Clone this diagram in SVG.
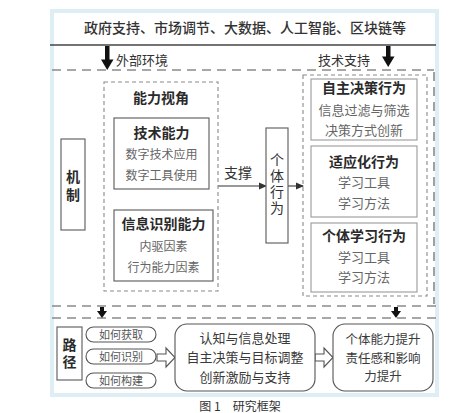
<svg xmlns="http://www.w3.org/2000/svg" width="450" height="413" viewBox="0 0 450 413">
<defs>
<style>
text{font-family:"Noto Sans CJK SC","Noto Sans",sans-serif;text-anchor:middle;fill:#333}
.b{font-weight:700;font-size:14px;fill:#2a2a2a}
.s{font-size:12px;fill:#666}
.m{font-size:13px;fill:#666}
.r{font-size:13px;fill:#3a3a3a}
.v{writing-mode:vertical-rl;text-orientation:upright}
.box{fill:#fff;stroke:#666;stroke-width:1.2}
.lbox{fill:#fff;stroke:#9a9a9a;stroke-width:1.1}
.dash{fill:none;stroke:#8a8a8a;stroke-width:1.1;stroke-dasharray:4 3}
.bigdash{fill:none;stroke:#8a8a8a;stroke-width:1.6;stroke-dasharray:9 6}
.pill{fill:#fff;stroke:#555;stroke-width:1.1}
.hollow{fill:#fff;stroke:#555;stroke-width:1.1}
.blk{fill:#111}
</style>
<marker id="ah" markerWidth="8" markerHeight="8" refX="7" refY="4" orient="auto" markerUnits="userSpaceOnUse">
<path d="M0,0.5 L8,4 L0,7.5 Z" fill="#333"/>
</marker>
</defs>
<g id="panel">
<rect x="50" y="9" width="389" height="388" fill="#deeef5"/>
<rect x="54" y="13" width="381" height="380" fill="#fff"/>
<line x1="50" y1="45" x2="436" y2="45" stroke="#444" stroke-width="1.3"/>
<text x="245" y="33" style="font-size:14px;fill:#333;font-weight:500">政府支持、市场调节、大数据、人工智能、区块链等</text>
<line class="bigdash" x1="52" y1="70" x2="434" y2="70"/>
<line class="bigdash" x1="434" y1="72" x2="434" y2="304"/>
<line class="bigdash" x1="52" y1="306" x2="436" y2="306"/>
<line class="bigdash" x1="52" y1="318" x2="436" y2="318"/>
</g>
<g id="connectors">
<rect class="blk" x="105" y="46" width="4.5" height="15"/>
<polygon class="blk" points="101,59.5 113.5,59.5 107.2,70"/>
<rect class="blk" x="386" y="46" width="4.5" height="12"/>
<polygon class="blk" points="382,56.5 394.5,56.5 388.2,67"/>
<rect class="blk" x="100" y="307" width="4" height="5"/>
<polygon class="blk" points="97,311 107,311 102,318"/>
<rect class="blk" x="394" y="307" width="4" height="5"/>
<polygon class="blk" points="391,311 401,311 396,318"/>
<line x1="218" y1="186" x2="266" y2="186" stroke="#333" stroke-width="1.1" marker-end="url(#ah)"/>
<line x1="288" y1="186" x2="303" y2="186" stroke="#333" stroke-width="1.1" marker-end="url(#ah)"/>
<polygon class="hollow" points="157,354 166,354 166,348 175,357.5 166,367 166,361 157,361"/>
<polygon class="hollow" points="315,354 324,354 324,348 333,357.5 324,367 324,361 315,361"/>
<text x="238" y="178" style="font-size:14px;fill:#333">支撑</text>
<text x="142" y="65" style="font-size:13px;fill:#333">外部环境</text>
<text x="344" y="65" style="font-size:13px;fill:#333">技术支持</text>
</g>
<g id="mechanism">
<rect class="box" x="61" y="139" width="24" height="91"/>
<text class="b v" x="73" y="188" style="letter-spacing:4px">机制</text>
</g>
<g id="ability">
<rect class="dash" x="104" y="82" width="114" height="209"/>
<text class="b" x="161" y="103">能力视角</text>
</g>
<g id="tech-ability">
<rect class="box" x="114" y="118" width="95" height="71"/>
<text class="b" x="161.5" y="138">技术能力</text>
<text class="s" x="161.5" y="159">数字技术应用</text>
<text class="s" x="161.5" y="180">数字工具使用</text>
</g>
<g id="info-ability">
<rect class="box" x="114" y="210" width="99" height="71"/>
<text class="b" x="163.5" y="229">信息识别能力</text>
<text class="s" x="163.5" y="251">内驱因素</text>
<text class="s" x="163.5" y="272">行为能力因素</text>
</g>
<g id="individual">
<rect class="box" x="266" y="128" width="22" height="115"/>
<text class="v" x="277" y="185" style="font-size:14px;fill:#333;letter-spacing:2px">个体行为</text>
</g>
<g id="behaviors">
<rect class="dash" x="303" y="75" width="124" height="221"/>
</g>
<g id="autonomous">
<rect class="lbox" x="311" y="79" width="106" height="61"/>
<text class="b" x="364" y="93">自主决策行为</text>
<text class="m" x="364" y="115">信息过滤与筛选</text>
<text class="m" x="364" y="135">决策方式创新</text>
</g>
<g id="adaptive">
<rect class="lbox" x="311" y="146" width="106" height="71"/>
<text class="b" x="364" y="167">适应化行为</text>
<text class="m" x="364" y="187">学习工具</text>
<text class="m" x="364" y="208">学习方法</text>
</g>
<g id="learning">
<rect class="lbox" x="311" y="223" width="106" height="69"/>
<text class="b" x="364" y="241">个体学习行为</text>
<text class="m" x="364" y="262">学习工具</text>
<text class="m" x="364" y="282">学习方法</text>
</g>
<g id="path">
<rect class="box" x="57" y="327" width="25" height="53"/>
<text class="b v" x="69.5" y="355" style="letter-spacing:3px">路径</text>
</g>
<g id="how-get">
<rect class="pill" x="86" y="327" width="70" height="15" rx="7.5"/>
<text x="121" y="338.5" style="font-size:11px;fill:#555">如何获取</text>
</g>
<g id="how-identify">
<rect class="pill" x="86" y="349" width="70" height="15" rx="7.5"/>
<text x="121" y="360.5" style="font-size:11px;fill:#555">如何识别</text>
</g>
<g id="how-build">
<rect class="pill" x="86" y="373" width="70" height="15" rx="7.5"/>
<text x="121" y="384.5" style="font-size:11px;fill:#555">如何构建</text>
</g>
<g id="process">
<rect class="pill" x="175" y="324" width="140" height="67" rx="12"/>
<text class="r" x="245" y="343">认知与信息处理</text>
<text class="r" x="245" y="362">自主决策与目标调整</text>
<text class="r" x="245" y="382">创新激励与支持</text>
</g>
<g id="outcome">
<rect class="pill" x="333" y="324" width="100" height="67" rx="12"/>
<text class="r" x="383" y="344" style="font-size:12.5px">个体能力提升</text>
<text class="r" x="383" y="362.5" style="font-size:12.5px">责任感和影响</text>
<text class="r" x="383" y="381" style="font-size:12.5px">力提升</text>
</g>
<text x="240" y="411" style="font-size:12px;fill:#333">图 1　研究框架</text>
</svg>
